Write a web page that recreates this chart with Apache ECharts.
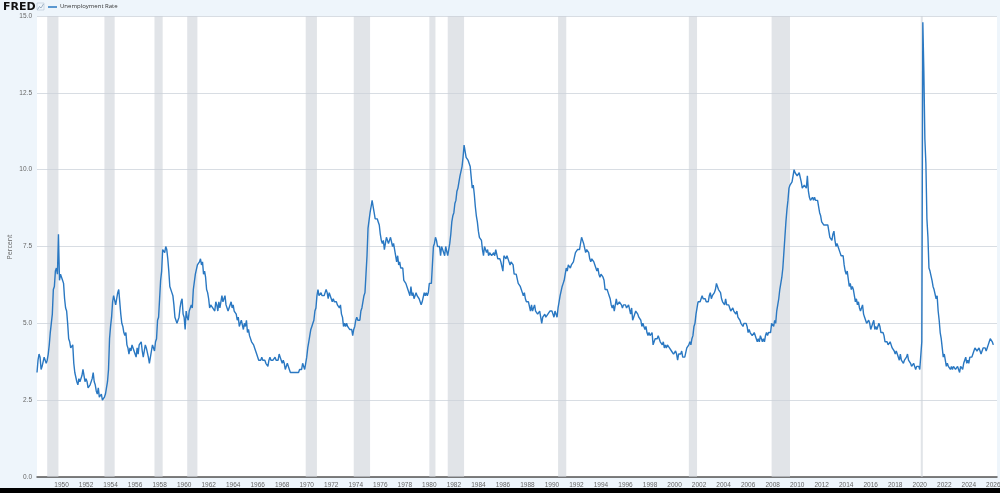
<!DOCTYPE html>
<html>
<head>
<meta charset="utf-8">
<script src="https://cdn.jsdelivr.net/npm/echarts@6/dist/echarts.min.js"></script>
<style>
html,body{margin:0;padding:0;background:#eef5fb;}
#chart{width:1000px;height:493px;}
</style>
</head>
<body>
<div id="chart"></div>
<script>
// Monthly unemployment rate (%), starting Jan 1948
const startYear = 1948;
const rates1940s = [
 3.4,3.8,4.0,3.9,3.5,3.6,3.6,3.9,3.8,3.7,3.8,4.0,
 4.3,4.7,5.0,5.3,6.1,6.2,6.7,6.8,6.6,7.9,6.4,6.6
];
const rates1950s = [
 6.5,6.4,6.3,5.8,5.5,5.4,5.0,4.5,4.4,4.2,4.2,4.3,
 3.7,3.4,3.4,3.1,3.0,3.2,3.1,3.1,3.3,3.5,3.5,3.1,
 3.2,3.1,2.9,2.9,3.0,3.0,3.2,3.4,3.1,3.0,2.8,2.7,
 2.9,2.6,2.6,2.7,2.5,2.5,2.6,2.7,2.9,3.1,3.5,4.5,
 4.9,5.2,5.7,5.9,5.9,5.6,5.8,6.0,6.1,5.7,5.3,5.0,
 4.9,4.7,4.6,4.7,4.3,4.2,4.0,4.2,4.1,4.3,4.2,4.2,
 4.0,3.9,4.2,4.0,4.3,4.3,4.4,4.1,3.9,3.9,4.3,4.2,
 4.2,3.9,3.7,3.9,4.1,4.3,4.2,4.1,4.4,4.5,5.1,5.2,
 5.8,6.4,6.7,7.4,7.4,7.3,7.5,7.4,7.1,6.7,6.2,6.2,
 6.0,5.9,5.6,5.2,5.1,5.0,5.1,5.2,5.5,5.7,5.8,5.3
];
const rates1960s = [
 5.2,4.8,5.4,5.2,5.1,5.4,5.5,5.6,5.5,6.1,6.1,6.6,
 6.6,6.9,6.9,7.0,7.1,6.9,7.0,6.6,6.7,6.5,6.1,6.0,
 5.8,5.5,5.6,5.6,5.5,5.5,5.4,5.7,5.6,5.4,5.7,5.5,
 5.7,5.9,5.7,5.7,5.9,5.6,5.6,5.4,5.5,5.5,5.7,5.5,
 5.6,5.4,5.4,5.3,5.1,5.2,4.9,5.0,5.1,5.1,4.8,5.0,
 4.9,5.1,4.7,4.8,4.6,4.6,4.4,4.4,4.3,4.2,4.1,4.0,
 4.0,3.8,3.8,3.8,3.9,3.8,3.8,3.8,3.7,3.7,3.6,3.8,
 3.9,3.8,3.8,3.8,3.8,3.9,3.8,3.8,3.8,4.0,3.9,3.8,
 3.7,3.8,3.7,3.5,3.5,3.7,3.7,3.5,3.4,3.4,3.4,3.4,
 3.4,3.4,3.4,3.4,3.4,3.5,3.5,3.5,3.7,3.7,3.5,3.5
];
const rates1970s = [
 3.9,4.2,4.4,4.6,4.8,4.9,5.0,5.1,5.4,5.5,5.9,6.1,
 5.9,5.9,6.0,5.9,5.9,5.9,6.0,6.1,6.0,5.8,6.0,6.0,
 5.8,5.7,5.8,5.7,5.7,5.7,5.6,5.6,5.5,5.6,5.3,5.2,
 4.9,5.0,4.9,5.0,4.9,4.9,4.8,4.8,4.8,4.6,4.8,4.9,
 5.1,5.2,5.1,5.1,5.1,5.4,5.5,5.5,5.9,6.0,6.6,7.2,
 8.1,8.1,8.6,8.8,9.0,8.8,8.6,8.4,8.4,8.4,8.3,8.2,
 7.9,7.7,7.6,7.7,7.4,7.6,7.8,7.8,7.6,7.7,7.8,7.8,
 7.5,7.6,7.4,7.2,7.0,7.2,6.9,7.0,6.8,6.8,6.8,6.4,
 6.4,6.3,6.3,6.1,6.0,5.9,6.2,5.9,6.0,5.8,5.9,6.0,
 5.9,5.9,5.8,5.8,5.6,5.7,5.7,6.0,5.9,6.0,5.9,6.0
];
const rates1980s = [
 6.3,6.3,6.3,6.9,7.5,7.6,7.8,7.7,7.5,7.5,7.5,7.2,
 7.5,7.4,7.4,7.2,7.5,7.5,7.2,7.4,7.6,7.9,8.3,8.5,
 8.6,8.9,9.0,9.3,9.4,9.6,9.8,9.8,10.1,10.4,10.8,10.8,
 10.4,10.4,10.3,10.2,10.1,10.1,9.4,9.5,9.2,8.8,8.5,8.3,
 8.0,7.8,7.8,7.7,7.4,7.2,7.5,7.5,7.3,7.4,7.2,7.3,
 7.3,7.2,7.2,7.3,7.2,7.4,7.4,7.1,7.1,7.1,7.0,7.0,
 6.7,7.2,7.2,7.1,7.2,7.2,7.0,6.9,7.0,7.0,6.9,6.6,
 6.6,6.6,6.6,6.3,6.3,6.2,6.1,6.0,5.9,6.0,5.8,5.7,
 5.7,5.7,5.7,5.4,5.6,5.4,5.4,5.6,5.4,5.4,5.3,5.3,
 5.4,5.2,5.0,5.2,5.2,5.3,5.2,5.2,5.3,5.3,5.4,5.4
];
const rates1990s = [
 5.4,5.3,5.2,5.4,5.4,5.2,5.5,5.7,5.9,5.9,6.2,6.3,
 6.4,6.6,6.8,6.7,6.9,6.9,6.8,6.9,6.9,7.0,7.0,7.3,
 7.3,7.4,7.4,7.4,7.6,7.8,7.7,7.6,7.6,7.3,7.4,7.4,
 7.3,7.1,7.0,7.1,7.1,7.0,6.9,6.8,6.7,6.8,6.6,6.5,
 6.6,6.6,6.5,6.4,6.1,6.1,6.1,6.0,5.9,5.8,5.6,5.5,
 5.6,5.4,5.4,5.8,5.6,5.6,5.7,5.7,5.6,5.5,5.6,5.6,
 5.6,5.5,5.5,5.6,5.6,5.3,5.5,5.1,5.2,5.2,5.4,5.4,
 5.3,5.2,5.2,5.1,4.9,5.0,4.9,4.8,4.9,4.7,4.6,4.7,
 4.6,4.6,4.7,4.3,4.4,4.5,4.5,4.5,4.6,4.5,4.4,4.4,
 4.3,4.4,4.2,4.3,4.2,4.3,4.3,4.2,4.2,4.1,4.1,4.0
];
const rates2000s = [
 4.0,4.1,4.0,3.8,4.0,4.0,4.0,4.1,3.9,3.9,3.9,3.9,
 4.2,4.2,4.3,4.4,4.3,4.5,4.6,4.9,5.0,5.3,5.5,5.7,
 5.7,5.7,5.7,5.9,5.8,5.8,5.8,5.7,5.7,5.7,5.9,6.0,
 5.8,5.9,5.9,6.0,6.1,6.3,6.2,6.1,6.1,6.0,5.8,5.7,
 5.7,5.6,5.8,5.6,5.6,5.6,5.5,5.4,5.4,5.5,5.4,5.4,
 5.3,5.4,5.2,5.2,5.1,5.0,5.0,4.9,5.0,5.0,5.0,4.9,
 4.7,4.8,4.7,4.7,4.6,4.6,4.7,4.7,4.5,4.4,4.5,4.4,
 4.6,4.5,4.4,4.5,4.4,4.6,4.7,4.6,4.7,4.7,4.7,5.0,
 5.0,4.9,5.1,5.0,5.4,5.6,5.8,6.1,6.1,6.5,6.8,7.3,
 7.8,8.3,8.7,9.0,9.4,9.5,9.5,9.6,9.8,10.0,9.9,9.9
];
const rates2010s = [
 9.8,9.8,9.9,9.9,9.6,9.4,9.4,9.5,9.5,9.4,9.8,9.3,
 9.1,9.0,9.0,9.1,9.0,9.1,9.0,9.0,9.0,8.8,8.6,8.5,
 8.3,8.3,8.2,8.2,8.2,8.2,8.2,8.0,7.8,7.8,7.7,7.9,
 8.0,7.7,7.5,7.6,7.5,7.5,7.3,7.2,7.2,7.2,6.9,6.7,
 6.6,6.7,6.7,6.2,6.3,6.1,6.2,6.1,5.9,5.7,5.8,5.6,
 5.7,5.5,5.4,5.4,5.6,5.3,5.2,5.1,5.0,5.0,5.1,5.0,
 4.8,4.9,5.0,5.1,4.8,4.9,4.8,4.9,5.0,4.9,4.7,4.7,
 4.7,4.6,4.4,4.4,4.4,4.3,4.3,4.4,4.3,4.2,4.2,4.1,
 4.0,4.1,4.0,4.0,3.8,4.0,3.8,3.8,3.7,3.8,3.8,3.9,
 4.0,3.8,3.8,3.7,3.6,3.6,3.7,3.6,3.5,3.6,3.6,3.6
];
const rates2020s = [
 3.5,3.5,4.4,14.8,13.2,11.0,10.2,8.4,7.8,6.8,6.7,6.7,
 6.4,6.2,6.1,6.1,5.8,5.9,5.4,5.1,4.7,4.5,4.2,3.9,
 4.0,3.8,3.6,3.7,3.6,3.6,3.5,3.6,3.5,3.6,3.6,3.5,
 3.5,3.6,3.5,3.4,3.6,3.6,3.5,3.7,3.8,3.9,3.7,3.8,
 3.7,3.9,3.9,3.9,4.0,4.1,4.2,4.2,4.1,4.1,4.2,4.1,
 4.0,4.1,4.2,4.2,4.2,4.1,4.2,4.3,4.4,4.5,4.5,4.4,
 4.3
];
// Recessions: [peak, trough] as "YYYY-MM"
const recessions = [
 ['1948-11','1949-10'],['1953-07','1954-05'],['1957-08','1958-04'],
 ['1960-04','1961-02'],['1969-12','1970-11'],['1973-11','1975-03'],
 ['1980-01','1980-07'],['1981-07','1982-11'],['1990-07','1991-03'],
 ['2001-03','2001-11'],['2007-12','2009-06'],['2020-02','2020-04']
];
const seriesName = 'Unemployment Rate';
const yAxisName = 'Percent';

const allRates = [].concat(rates1940s, rates1950s, rates1960s, rates1970s,
  rates1980s, rates1990s, rates2000s, rates2010s, rates2020s);
const lineData = allRates.map((v, i) => [startYear + i / 12, v]);
const ym = s => { const p = s.split('-'); return +p[0] + (+p[1] - 1) / 12; };
const areas = recessions.map(r => [{ xAxis: ym(r[0]) }, { xAxis: ym(r[1]) }]);

const chart = echarts.init(document.getElementById('chart'));
chart.setOption({
  backgroundColor: '#eef5fb',
  animation: false,
  grid: { left: 37, right: 3, top: 16, bottom: 16, show: true, backgroundColor: '#ffffff', borderWidth: 0,
          containLabel: false, outerBoundsMode: 'none' },
  graphic: [
    { type: 'text', left: 3, top: 2, style: { text: 'FRED', font: 'bold 11px "DejaVu Sans", sans-serif', fill: '#111' } },
    { type: 'rect', shape: { x: 37, y: 3, width: 7, height: 7 }, style: { stroke: '#a9b8c8', lineWidth: 0.5, fill: null } },
    { type: 'polyline', shape: { points: [[37.5,9.5],[39.5,6.5],[41,8],[43.5,4]] }, style: { stroke: '#8096ad', lineWidth: 0.7, fill: null } },
    { type: 'line', shape: { x1: 48, y1: 7, x2: 57, y2: 7 }, style: { stroke: '#2a78c2', lineWidth: 1.5 } },
    { type: 'text', left: 60, top: 3.5, style: { text: seriesName, font: '6px "Open Sans", sans-serif', fill: '#333' } },
    { type: 'text', x: 10, y: 247, rotation: Math.PI / 2,
      style: { text: yAxisName, font: '7px "Open Sans", sans-serif', fill: '#666', align: 'center', verticalAlign: 'middle' } },
    { type: 'rect', shape: { x: 0, y: 488, width: 1000, height: 5 }, style: { fill: '#000' } }
  ],
  xAxis: {
    type: 'value', min: 1948, max: 2026.3, interval: 2,
    axisLine: { show: true, lineStyle: { color: '#555', width: 1.5 } },
    axisTick: { show: false },
    splitLine: { show: false },
    axisLabel: {
      color: '#666', fontSize: 6.5, margin: 5, showMaxLabel: false,
      formatter: v => (v <= 1948.01 ? '' : String(Math.round(v)))
    }
  },
  yAxis: {
    type: 'value', min: 0, max: 15, interval: 2.5,
    axisLine: { show: false }, axisTick: { show: false },
    axisLabel: { color: '#666', fontSize: 6.5, margin: 5, formatter: v => v.toFixed(1) },
    splitLine: { show: true, lineStyle: { color: '#d8dde3', width: 1 } }
  },
  series: [{
    name: seriesName, type: 'line', data: lineData, showSymbol: false,
    lineStyle: { color: '#2a78c2', width: 1.4 },
    markArea: { silent: true, itemStyle: { color: 'rgba(205,210,217,0.6)' }, data: areas }
  }]
});
</script>
</body>
</html>
